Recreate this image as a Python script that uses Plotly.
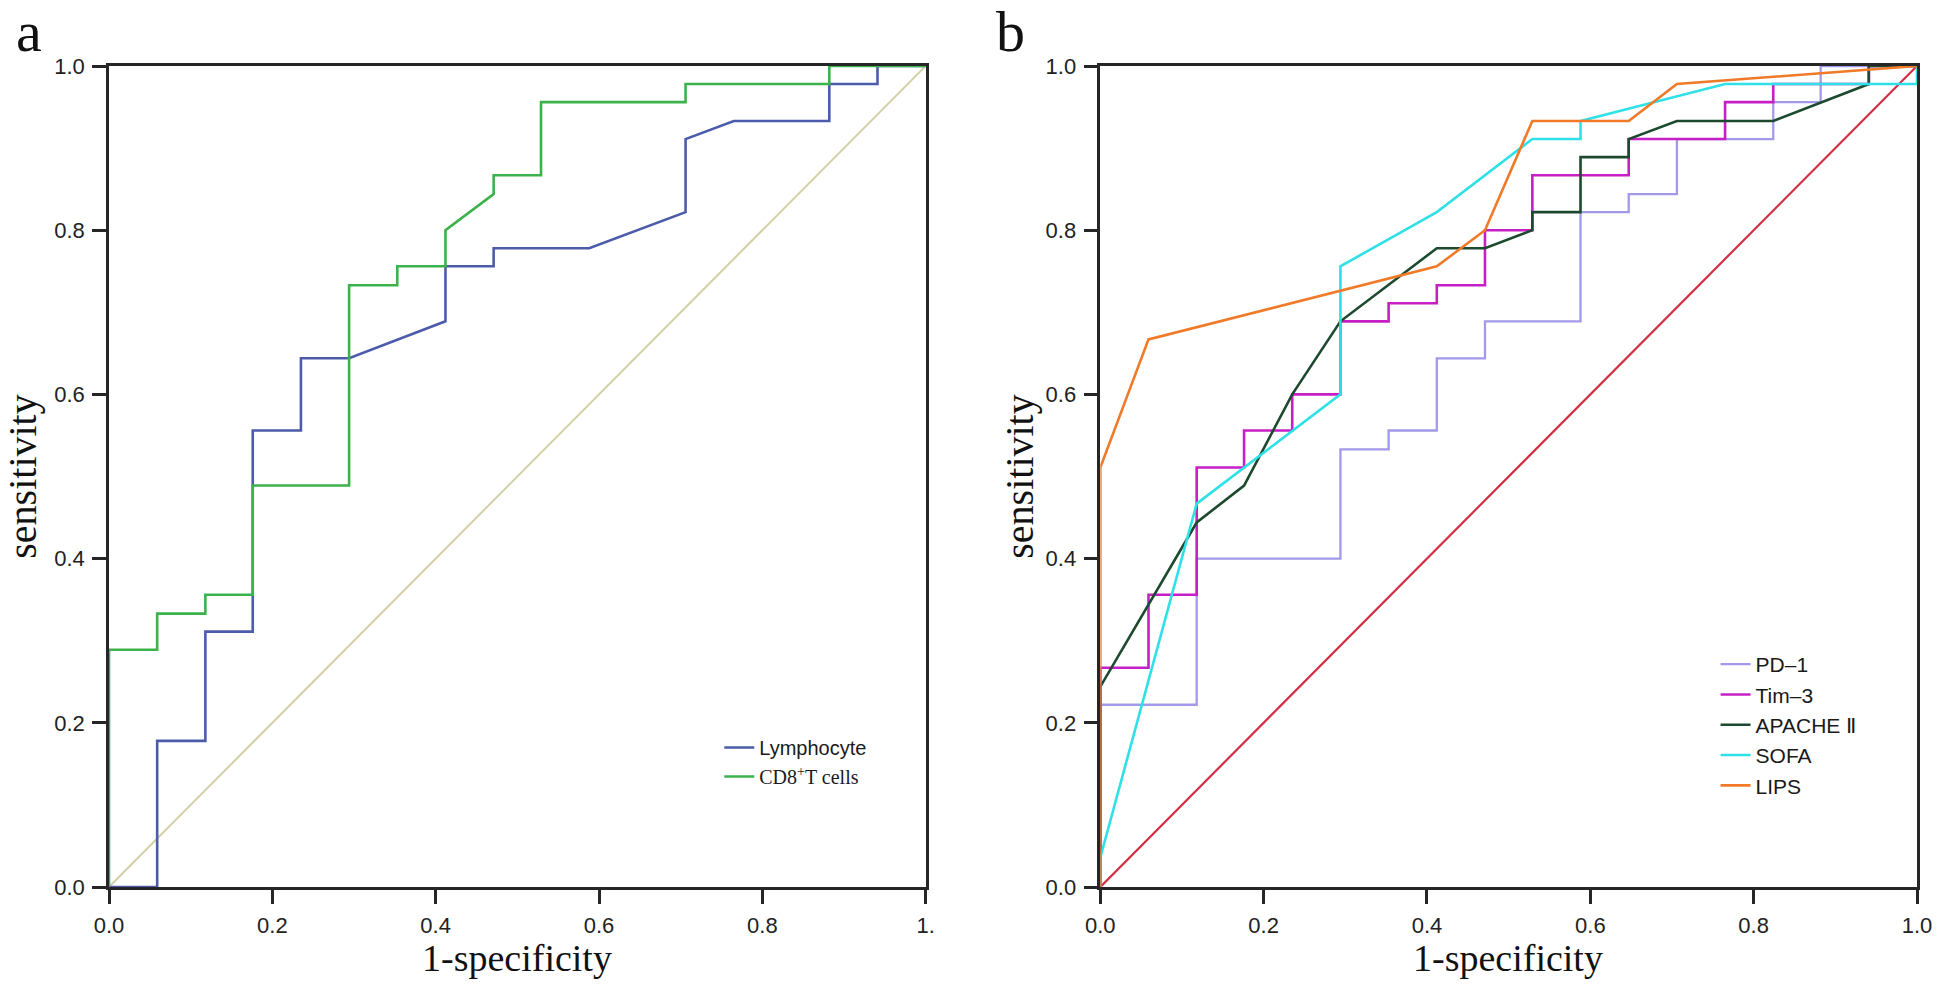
import plotly.graph_objects as go

# ---------------- Panel a data ----------------
lymph_x = [0, 0.059, 0.059, 0.118, 0.118, 0.176, 0.176, 0.235, 0.235, 0.294, 0.412, 0.412,
           0.471, 0.471, 0.588, 0.706, 0.706, 0.765, 0.882, 0.882, 0.941, 0.941, 1.0]
lymph_y = [0, 0, 0.178, 0.178, 0.311, 0.311, 0.556, 0.556, 0.644, 0.644, 0.689, 0.756,
           0.756, 0.778, 0.778, 0.822, 0.911, 0.933, 0.933, 0.978, 0.978, 1.0, 1.0]

cd8_x = [0, 0, 0.059, 0.059, 0.118, 0.118, 0.176, 0.176, 0.294, 0.294, 0.353, 0.353,
         0.412, 0.412, 0.471, 0.471, 0.529, 0.529, 0.706, 0.706, 0.882, 0.882, 1.0]
cd8_y = [0, 0.289, 0.289, 0.333, 0.333, 0.356, 0.356, 0.489, 0.489, 0.733, 0.733, 0.756,
         0.756, 0.800, 0.844, 0.867, 0.867, 0.956, 0.956, 0.978, 0.978, 1.0, 1.0]

ref_x = [0, 1]
ref_y = [0, 1]

# ---------------- Panel b data ----------------
pd1_x = [0, 0, 0.118, 0.118, 0.294, 0.294, 0.353, 0.353, 0.412, 0.412, 0.471, 0.471,
         0.588, 0.588, 0.647, 0.647, 0.706, 0.706, 0.824, 0.824, 0.882, 0.882, 1.0]
pd1_y = [0, 0.222, 0.222, 0.400, 0.400, 0.533, 0.533, 0.556, 0.556, 0.644, 0.644, 0.689,
         0.689, 0.822, 0.822, 0.844, 0.844, 0.911, 0.911, 0.956, 0.956, 1.0, 1.0]

tim3_x = [0, 0, 0.059, 0.059, 0.118, 0.118, 0.176, 0.176, 0.235, 0.235, 0.294, 0.294,
          0.353, 0.353, 0.412, 0.412, 0.471, 0.471, 0.529, 0.529, 0.647, 0.647, 0.765,
          0.765, 0.824, 0.824, 0.941, 0.941, 1.0]
tim3_y = [0, 0.267, 0.267, 0.356, 0.356, 0.511, 0.511, 0.556, 0.556, 0.600, 0.600, 0.689,
          0.689, 0.711, 0.711, 0.733, 0.733, 0.800, 0.800, 0.867, 0.867, 0.911, 0.911,
          0.956, 0.956, 0.978, 0.978, 1.0, 1.0]

apache_x = [0, 0, 0.118, 0.176, 0.235, 0.294, 0.412, 0.471, 0.529, 0.529, 0.588, 0.588,
            0.647, 0.647, 0.706, 0.824, 0.941, 0.941, 1.0]
apache_y = [0, 0.244, 0.444, 0.489, 0.600, 0.689, 0.778, 0.778, 0.800, 0.822, 0.822, 0.889,
            0.889, 0.911, 0.933, 0.933, 0.978, 1.0, 1.0]

sofa_x = [0, 0, 0.118, 0.176, 0.235, 0.294, 0.294, 0.412, 0.529, 0.588, 0.588, 0.765, 1.0, 1.0]
sofa_y = [0, 0.036, 0.467, 0.511, 0.556, 0.600, 0.756, 0.822, 0.911, 0.911, 0.933, 0.978, 0.978, 1.0]

lips_x = [0, 0, 0.059, 0.412, 0.471, 0.529, 0.647, 0.706, 1.0]
lips_y = [0, 0.511, 0.667, 0.756, 0.800, 0.933, 0.933, 0.978, 1.0]

tick_vals = [0, 0.2, 0.4, 0.6, 0.8, 1.0]
tick_text_a_x = ["0.0", "0.2", "0.4", "0.6", "0.8", "1."]
tick_text = ["0.0", "0.2", "0.4", "0.6", "0.8", "1.0"]

SANS = "Arial, Liberation Sans, sans-serif"
SERIF = "Times New Roman, Liberation Serif, serif"
AXC = "#262626"

fig = go.Figure()

# panel a
fig.add_trace(go.Scatter(x=ref_x, y=ref_y, mode="lines", line=dict(color="#d3d0a6", width=2),
                         showlegend=False, xaxis="x", yaxis="y", hoverinfo="skip"))
fig.add_trace(go.Scatter(x=lymph_x, y=lymph_y, mode="lines", name="Lymphocyte",
                         line=dict(color="#4d5caa", width=2.6), xaxis="x", yaxis="y", legend="legend"))
fig.add_trace(go.Scatter(x=cd8_x, y=cd8_y, mode="lines",
                         name="<span style=\"font-family:Times New Roman,Liberation Serif,serif\">CD8<sup>+</sup>T cells</span>",
                         line=dict(color="#3cb34a", width=2.6), xaxis="x", yaxis="y", legend="legend"))

# panel b
fig.add_trace(go.Scatter(x=ref_x, y=ref_y, mode="lines", line=dict(color="#d22f45", width=2.2),
                         showlegend=False, xaxis="x2", yaxis="y2", hoverinfo="skip"))
fig.add_trace(go.Scatter(x=pd1_x, y=pd1_y, mode="lines", name="PD\u20131",
                         line=dict(color="#a299ea", width=2.3), xaxis="x2", yaxis="y2", legend="legend2"))
fig.add_trace(go.Scatter(x=tim3_x, y=tim3_y, mode="lines", name="Tim\u20133",
                         line=dict(color="#c61fc6", width=2.6), xaxis="x2", yaxis="y2", legend="legend2"))
fig.add_trace(go.Scatter(x=apache_x, y=apache_y, mode="lines", name="APACHE \u2161",
                         line=dict(color="#1d4a2e", width=2.6), xaxis="x2", yaxis="y2", legend="legend2"))
fig.add_trace(go.Scatter(x=sofa_x, y=sofa_y, mode="lines", name="SOFA",
                         line=dict(color="#2fe0e6", width=2.6), xaxis="x2", yaxis="y2", legend="legend2"))
fig.add_trace(go.Scatter(x=lips_x, y=lips_y, mode="lines", name="LIPS",
                         line=dict(color="#f07a28", width=2.6), xaxis="x2", yaxis="y2", legend="legend2"))

L, R, T, B = 105, 17, 66, 99
W, H = 1944, 986
PW = W - L - R
PH = H - T - B


def px_x(px):
    return (px - L) / PW


def px_y(py):
    return (H - B - py) / PH


def axis_style(ticktext, **extra):
    d = dict(range=[0, 1], showgrid=False, zeroline=False, showline=True, linecolor=AXC,
             linewidth=2.5, mirror=True, ticks="outside", ticklen=14, tickwidth=2.5,
             tickcolor=AXC, tickvals=tick_vals, ticktext=ticktext, ticklabelstandoff=3,
             tickfont=dict(family=SANS, size=22, color="#222222"), fixedrange=True)
    d.update(extra)
    return d


title_font = dict(family=SERIF, size=38, color="#111111")

fig.update_layout(
    width=W, height=H,
    margin=dict(l=L, r=R, t=T, b=B),
    paper_bgcolor="white", plot_bgcolor="white",
    hovermode=False,
    xaxis=axis_style(tick_text_a_x, domain=[0, px_x(928)], anchor="y"),
    yaxis=axis_style(tick_text, domain=[0, 1], anchor="x",
                     title=dict(text="sensitivity", font=dict(title_font, size=40), standoff=14)),
    xaxis2=axis_style(tick_text, domain=[px_x(1104), 1], anchor="y2"),
    yaxis2=axis_style(tick_text, domain=[0, 1], anchor="x2",
                      title=dict(text="sensitivity", font=dict(title_font, size=40), standoff=0)),
    legend=dict(x=px_x(720), y=px_y(728), xanchor="left", yanchor="top",
                bgcolor="rgba(0,0,0,0)", borderwidth=0,
                font=dict(family=SANS, size=20, color="#1a1a1a")),
    legend2=dict(x=px_x(1724), y=px_y(644), xanchor="left", yanchor="top",
                 bgcolor="rgba(0,0,0,0)", borderwidth=0,
                 font=dict(family=SANS, size=21, color="#1a1a1a")),
    annotations=[
        dict(text="1-specificity", x=px_x(516), y=px_y(981), xref="paper", yref="paper",
             showarrow=False, xanchor="center", yanchor="bottom", font=title_font),
        dict(text="1-specificity", x=px_x(1515), y=px_y(981), xref="paper", yref="paper",
             showarrow=False, xanchor="center", yanchor="bottom", font=title_font),
        dict(text="a", x=px_x(24), y=px_y(66), xref="paper", yref="paper", showarrow=False,
             xanchor="center", yanchor="bottom", font=dict(family=SERIF, size=58, color="#111111")),
        dict(text="b", x=px_x(1013), y=px_y(66), xref="paper", yref="paper", showarrow=False,
             xanchor="center", yanchor="bottom", font=dict(family=SERIF, size=58, color="#111111")),
    ],
)

fig.write_html("out.html", config={"displayModeBar": False},
               post_script="document.body.style.margin='0px';")
